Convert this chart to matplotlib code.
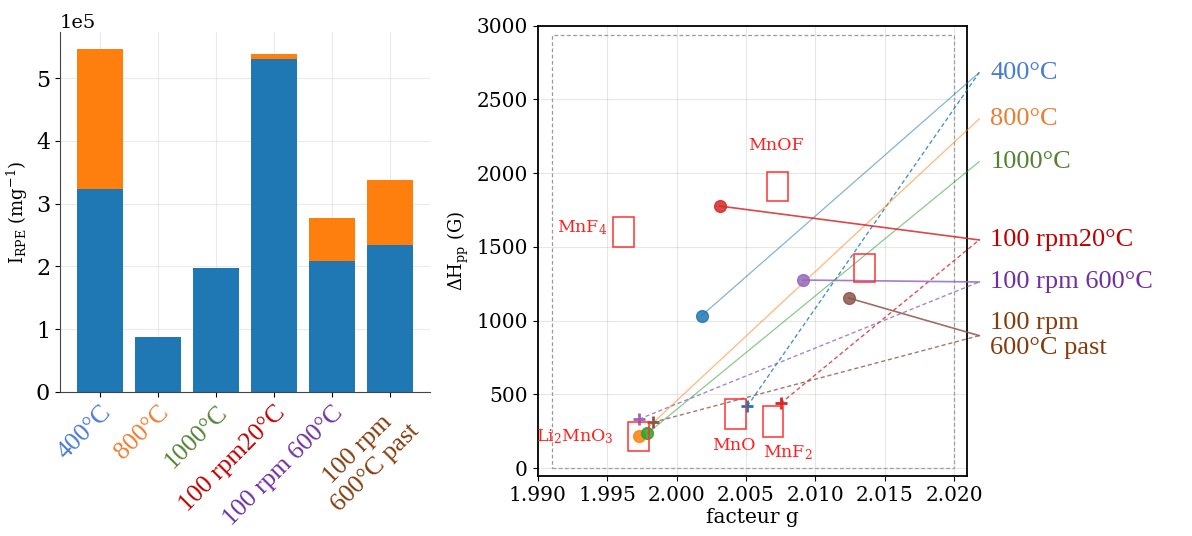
import matplotlib

matplotlib.use("Agg")
import matplotlib.pyplot as plt
from matplotlib.patches import Rectangle


SAMPLES = ["400°C", "800°C", "1000°C", "100 rpm20°C", "100 rpm 600°C", "100 rpm\n600°C past"]
LABEL_COLORS = ["#4a7bd4", "#ed7d31", "#548235", "#c00000", "#7030a0", "#843c0c"]
MARKER_COLORS = ["tab:blue", "tab:orange", "tab:green", "tab:red", "tab:purple", "tab:brown"]

# left panel, intensity in units of 1e5 mg^-1
INTENSITY_MAIN = [3.24, 0.88, 1.975, 5.30, 2.08, 2.34]
INTENSITY_EXTRA = [2.22, 0.0, 0.0, 0.08, 0.69, 1.04]

# right panel, circle = main signal, plus = second signal (None when absent)
G_CIRCLE = [2.0018, 1.9973, 1.9979, 2.0031, 2.0091, 2.0124]
DH_CIRCLE = [1033, 219, 235, 1777, 1275, 1153]
G_PLUS = [2.0051, None, None, 2.0075, 1.9973, 1.9983]
DH_PLUS = [420, None, None, 439, 332, 310]
LABEL_Y = [2682, 2368, 2078, 1547, 1262, 898]
LABEL_G = 2.0218

# reference compounds: name, g range, dH range
REF_NAMES = ["MnF$_4$", "MnOF", "", "Li$_2$MnO$_3$", "MnO", "MnF$_2$"]
REF_G = [(1.9954, 1.9969), (2.0065, 2.0080), (2.0128, 2.0143), (1.9965, 1.9980), (2.0035, 2.0050), (2.0062, 2.0077)]
REF_DH = [(1500, 1700), (1811, 2010), (1262, 1452), (113, 314), (267, 466), (212, 421)]
REF_TEXT_POS = [(1.9950, 1628, "right"), (2.00715, 2187, "center"), (None, None, None),
                (1.9955, 212, "right"), (2.00414, 151, "center"), (2.00805, 104, "center")]


def main() -> None:
    plt.rcParams["font.family"] = "DejaVu Serif"
    plt.rcParams["mathtext.fontset"] = "dejavuserif"
    fig = plt.figure(figsize=(11.92, 5.36), dpi=100)
    left = fig.add_axes([0.0503, 0.2687, 0.3104, 0.6716])
    right = fig.add_axes([0.4511, 0.1119, 0.3599, 0.8402])
    _plot_intensity(left)
    _plot_g_factor(right)
    fig.savefig("out.png", dpi=100)
    plt.close(fig)


def _plot_intensity(axis) -> None:
    xs = list(range(len(SAMPLES)))
    main_vals = [v * 1e5 for v in INTENSITY_MAIN]
    extra_vals = [v * 1e5 for v in INTENSITY_EXTRA]
    axis.bar(xs, main_vals, width=0.8, color="#1f77b4", zorder=2)
    axis.bar(xs, extra_vals, width=0.8, bottom=main_vals, color="#ff7f0e", zorder=2)
    axis.ticklabel_format(axis="y", style="sci", scilimits=(5, 5))
    axis.yaxis.get_offset_text().set_fontsize(14)
    axis.set_xticks(xs)
    axis.set_xticklabels(SAMPLES, rotation=45, ha="right", rotation_mode="anchor",
                         multialignment="center", family="Liberation Serif", fontsize=18.5)
    for tick, color in zip(axis.get_xticklabels(), LABEL_COLORS):
        tick.set_color(color)
    axis.tick_params(axis="y", labelsize=16)
    axis.set_ylabel(r"$\mathrm{I_{RPE}}$ (mg$^{-1}$)", fontsize=13)
    axis.grid(True, alpha=0.25, zorder=0)
    axis.spines["top"].set_visible(False)
    axis.spines["right"].set_visible(False)
    for side in ("left", "bottom"):
        axis.spines[side].set_color("#444444")


def _plot_g_factor(axis) -> None:
    axis.add_patch(Rectangle((1.991, 0), 0.029, 2940, fill=False, edgecolor="#999999",
                             linestyle=(0, (3, 2)), linewidth=0.9, zorder=1))
    for idx, name in enumerate(SAMPLES):
        marker_color = MARKER_COLORS[idx]
        faint = idx < 3
        axis.plot([G_CIRCLE[idx], LABEL_G], [DH_CIRCLE[idx], LABEL_Y[idx]], color=marker_color,
                  linewidth=0.9 if faint else 1.2, alpha=0.55 if faint else 0.85, clip_on=False, zorder=3)
        axis.plot(G_CIRCLE[idx], DH_CIRCLE[idx], "o", markersize=8.5, color=marker_color, alpha=0.85, zorder=4)
        if G_PLUS[idx] is not None:
            axis.plot([G_PLUS[idx], LABEL_G], [DH_PLUS[idx], LABEL_Y[idx]], color=marker_color,
                      linestyle=(0, (3, 2)), linewidth=1.0, alpha=0.8, clip_on=False, zorder=3)
            axis.plot(G_PLUS[idx], DH_PLUS[idx], "+", markersize=9, markeredgewidth=2,
                      color=marker_color, zorder=4)
        axis.annotate(name, (LABEL_G, LABEL_Y[idx]), xytext=(8, 0), textcoords="offset points",
                      color=LABEL_COLORS[idx], fontsize=19, family="Liberation Serif",
                      ha="left", va="center", annotation_clip=False)

    for name, (g0, g1), (h0, h1), (tx, ty, ha) in zip(REF_NAMES, REF_G, REF_DH, REF_TEXT_POS):
        axis.add_patch(Rectangle((g0, h0), g1 - g0, h1 - h0, fill=False, edgecolor="#ff3030",
                                 linewidth=1.1, zorder=5))
        if name:
            axis.text(tx, ty, name, color="#ff2020", fontsize=12.5, ha=ha, va="center", zorder=5)

    axis.set_xlim(1.990, 2.0209)
    axis.set_ylim(-54, 3000)
    axis.set_xticks([1.990, 1.995, 2.000, 2.005, 2.010, 2.015, 2.020])
    axis.set_xticklabels(["1.990", "1.995", "2.000", "2.005", "2.010", "2.015", "2.020"])
    axis.tick_params(labelsize=14.5)
    axis.set_xlabel("facteur g", fontsize=14.5, labelpad=2)
    axis.set_ylabel(r"$\Delta\mathrm{H_{pp}}$ (G)", fontsize=13)
    axis.grid(True, alpha=0.3)
    for spine in axis.spines.values():
        spine.set_linewidth(1.3)


if __name__ == "__main__":
    main()
